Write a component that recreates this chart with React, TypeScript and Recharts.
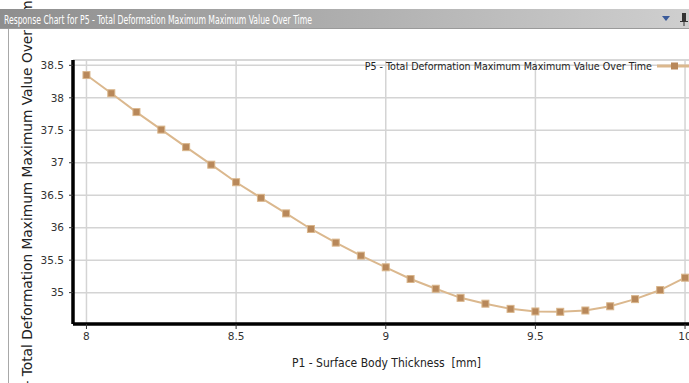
import { CartesianGrid, Label, Legend, Line, LineChart, ReferenceLine, XAxis, YAxis } from "recharts";

const thickness = [
  8, 8.083, 8.167, 8.25, 8.333, 8.417, 8.5, 8.583, 8.667, 8.75, 8.833, 8.917, 9,
  9.083, 9.167, 9.25, 9.333, 9.417, 9.5, 9.583, 9.667, 9.75, 9.833, 9.917, 10,
];
const deformation = [
  38.35, 38.07, 37.78, 37.51, 37.24, 36.97, 36.7, 36.46, 36.22, 35.98, 35.77, 35.57, 35.39,
  35.21, 35.06, 34.92, 34.83, 34.75, 34.71, 34.705, 34.725, 34.79, 34.9, 35.04, 35.23,
];
const xTicks = [8, 8.5, 9, 9.5, 10];
const yTicks = [35, 35.5, 36, 36.5, 37, 37.5, 38, 38.5];

const seriesName = "P5 - Total Deformation Maximum Maximum Value Over Time";
const xTitle = "P1 - Surface Body Thickness \u00a0[mm]";
const headerTitle = "Response Chart for P5 - Total Deformation Maximum Maximum Value Over Time";

const data = thickness.map((x, i) => ({ x, y: deformation[i] }));

const LINE = "#dbb88e";
const MARK = "#b8885a";
const narrow = "'DejaVu Sans Condensed', 'DejaVu Sans', sans-serif";

const SquareDot = (props: any) => {
  const { cx, cy } = props;
  if (cx == null || cy == null) return null;
  return <rect x={cx - 3.5} y={cy - 3.5} width={7} height={7} fill={MARK} stroke="#d9b68c" strokeWidth={1} />;
};

const LegendBox = () => (
  <div style={{ display: "flex", alignItems: "center", fontFamily: narrow, fontStretch: "condensed", fontSize: 10.6, color: "#222" }}>
    <span>{seriesName}</span>
    <svg width={40} height={10} style={{ marginLeft: 5 }}>
      <line x1={0} y1={5} x2={40} y2={5} stroke={LINE} strokeWidth={3} />
      <rect x={14} y={1.5} width={7} height={7} fill={MARK} />
    </svg>
  </div>
);

const YTitle = () => (
  <text
    x={32}
    y={407}
    transform="rotate(-90 32 407)"
    textAnchor="start"
    fontFamily="'DejaVu Sans', sans-serif"
    fontSize={13.5}
    fill="#222"
    textLength={415}
    lengthAdjust="spacingAndGlyphs"
  >
    {seriesName}
  </text>
);

export default function App() {
  return (
    <div style={{ position: "fixed", left: 0, top: 0, width: 689, height: 383, overflow: "hidden", background: "#fff" }}>
      <LineChart width={700} height={383} data={data} margin={{ top: 48, right: 0, left: 0, bottom: 0 }}>
        <CartesianGrid stroke="#d4d4d4" strokeWidth={1.5} />
        <ReferenceLine y={38.582} stroke="#d4d4d4" strokeWidth={1.5} />
        <XAxis
          dataKey="x"
          type="number"
          domain={[7.955, 10.05]}
          ticks={xTicks}
          allowDataOverflow
          height={59}
          axisLine={{ stroke: "#000", strokeWidth: 3.5 }}
          tickLine={{ stroke: "#333", strokeWidth: 1 }}
          tickSize={5}
          tickMargin={4}
          tick={{ fontFamily: "'DejaVu Sans', sans-serif", fontSize: 10.5, fill: "#333" }}
        >
          <Label
            value={xTitle}
            position="insideBottom"
            offset={16}
            style={{ fontFamily: narrow, fontStretch: "condensed", fontSize: 12, fill: "#222" }}
          />
        </XAxis>
        <YAxis
          type="number"
          domain={[34.517, 38.582]}
          ticks={yTicks}
          allowDataOverflow
          width={73}
          axisLine={{ stroke: "#000", strokeWidth: 3.5 }}
          tickLine={{ stroke: "#333", strokeWidth: 1 }}
          tickSize={4}
          tickMargin={5}
          tick={{ fontFamily: "'DejaVu Sans', sans-serif", fontSize: 10.5, fill: "#333" }}
          label={<YTitle />}
        />
        <Legend
          verticalAlign="top"
          align="right"
          content={<LegendBox />}
          wrapperStyle={{ top: 60, right: 3, left: "auto", width: "auto" }}
        />
        <Line
          dataKey="y"
          name={seriesName}
          type="linear"
          stroke={LINE}
          strokeWidth={2}
          dot={<SquareDot />}
          activeDot={false}
          isAnimationActive={false}
        />
      </LineChart>
      <svg width={689} height={383} style={{ position: "absolute", left: 0, top: 0, pointerEvents: "none" }}>
        <line x1={8.5} y1={29} x2={8.5} y2={383} stroke="#a8a8a8" strokeWidth={1} />
        <defs>
          <linearGradient id="hdr" x1="0" y1="0" x2="1" y2="0">
            <stop offset="0" stopColor="#8e8e8e" />
            <stop offset="1" stopColor="#cfcfcf" />
          </linearGradient>
        </defs>
        <rect x={0} y={9} width={689} height={20} fill="url(#hdr)" />
        <line x1={0} y1={28.5} x2={689} y2={28.5} stroke="#9a9a9a" strokeWidth={1} />
        <text
          x={4}
          y={23.5}
          fontFamily="'Liberation Sans Narrow', 'DejaVu Sans Condensed', sans-serif"
          fontSize={13}
          fill="#fff"
          textLength={308}
          lengthAdjust="spacingAndGlyphs"
        >
          {headerTitle}
        </text>
        <path d="M662 16 L670 16 L666 21 Z" fill="#3a5a9a" />
        <rect x={682} y={13} width={4} height={8} fill="#333" />
        <line x1={680} y1={21.5} x2={688} y2={21.5} stroke="#333" strokeWidth={1} />
        <line x1={684} y1={21} x2={684} y2={26} stroke="#333" strokeWidth={1} />
      </svg>
    </div>
  );
}
